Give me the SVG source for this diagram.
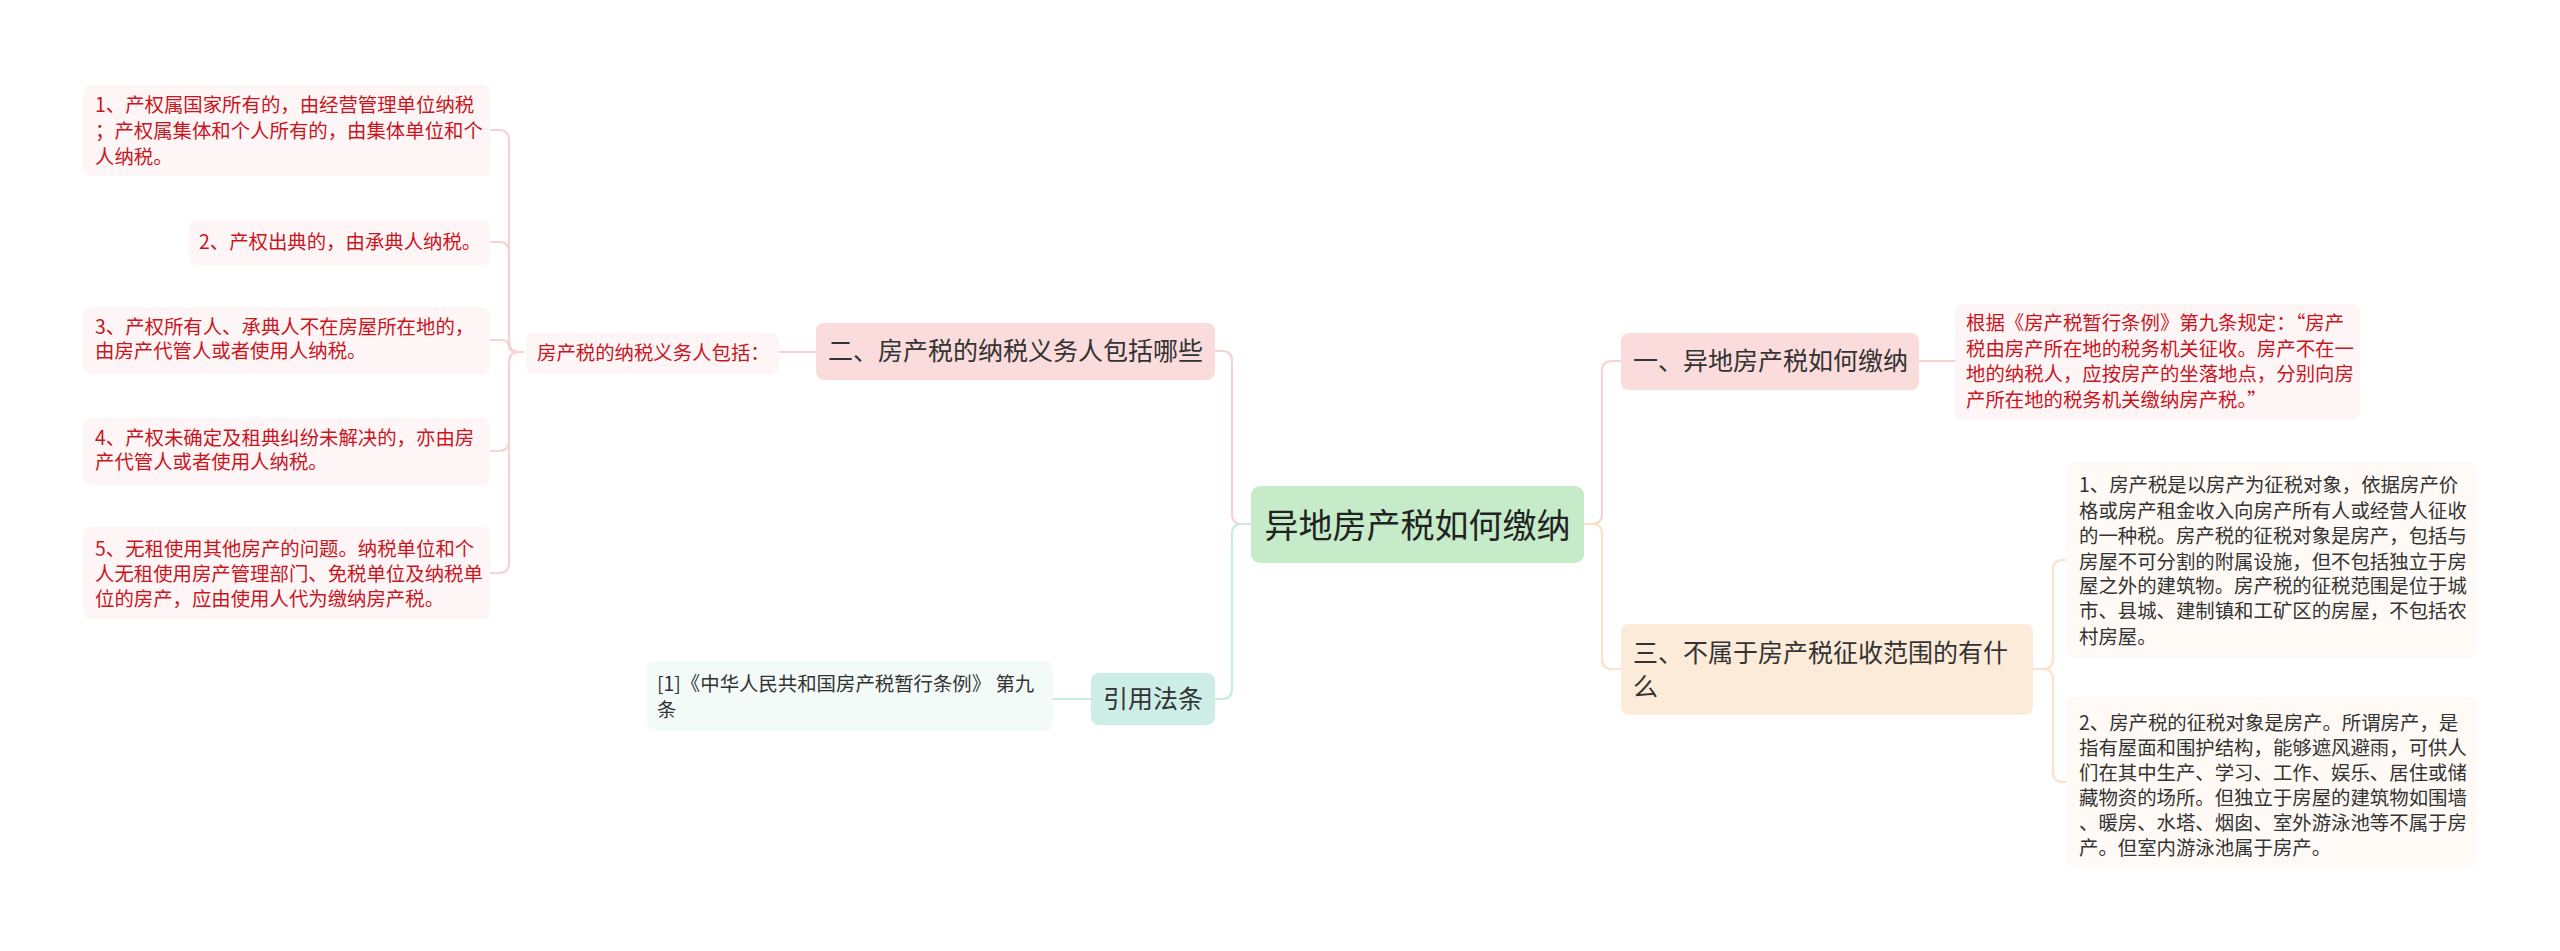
<svg xmlns="http://www.w3.org/2000/svg" width="2560" height="951" viewBox="0 0 2560 951">
<style>
text{font-family:"Noto Sans CJK SC","Liberation Sans",sans-serif;}
.main{font-size:25px;fill:#333333;}
.root{font-size:34px;fill:#222222;}
.leaf{font-size:19.4px;fill:#c9151e;}
.dark{font-size:19.4px;fill:#333333;}
.c{fill:none;stroke-width:2.2;}
.pink{stroke:#f6d2d3;}
.teal{stroke:#c6ece4;}
.peach{stroke:#fce2ca;}
</style>
<rect width="2560" height="951" fill="#ffffff"/>
<g id="connectors">
<path class="c pink" d="M1251,524 H1242 Q1232,524 1232,514 V361 Q1232,351 1222,351 H1215"/>
<path class="c teal" d="M1251,524 H1242 Q1232,524 1232,534 V689 Q1232,699 1222,699 H1215"/>
<path class="c pink" d="M1584,524 H1592 Q1602,524 1602,514 V371 Q1602,361 1612,361 H1621"/>
<path class="c peach" d="M1584,524 H1592 Q1602,524 1602,534 V659 Q1602,669 1612,669 H1621"/>
<path class="c pink" d="M816,352 H779"/>
<path class="c teal" d="M1091,699 H1053"/>
<path class="c pink" d="M1919,361 H1955"/>
<path class="c pink" d="M524,352 H519 Q509,352 509,342 V140 Q509,130 499,130 H490"/>
<path class="c pink" d="M524,352 H519 Q509,352 509,342 V252 Q509,242 499,242 H490"/>
<path class="c pink" d="M524,352 H519 Q509,352 509,346 Q509,340 499,340 H490"/>
<path class="c pink" d="M524,352 H519 Q509,352 509,362 V441 Q509,451 499,451 H490"/>
<path class="c pink" d="M524,352 H519 Q509,352 509,362 V563 Q509,573 499,573 H490"/>
<path class="c peach" d="M2033,669 H2043 Q2053,669 2053,659 V570 Q2053,560 2063,560 H2066"/>
<path class="c peach" d="M2033,669 H2043 Q2053,669 2053,679 V772 Q2053,782 2063,782 H2066"/>
</g>
<g id="root">
<rect x="1251" y="486" width="333" height="77" rx="9" fill="#c5ebc8"/>
<text class="root" x="1417.5" y="538" text-anchor="middle">异地房产税如何缴纳</text>
</g>
<g id="n1">
<rect x="1621" y="333" width="298" height="57" rx="8" fill="#fbdcdc"/>
<text class="main" x="1633" y="370">一、异地房产税如何缴纳</text>
</g>
<g id="n1a">
<rect x="1955" y="304" width="405" height="116" rx="8" fill="#fef6f6"/>
<text class="leaf" x="1966" y="330">根据《房产税暂行条例》第九条规定：“房产</text>
<text class="leaf" x="1966" y="356">税由房产所在地的税务机关征收。房产不在一</text>
<text class="leaf" x="1966" y="381">地的纳税人，应按房产的坐落地点，分别向房</text>
<text class="leaf" x="1966" y="407">产所在地的税务机关缴纳房产税。”</text>
</g>
<g id="n3">
<rect x="1621" y="624" width="412" height="91" rx="8" fill="#fdebd9"/>
<text class="main" x="1633" y="662">三、不属于房产税征收范围的有什</text>
<text class="main" x="1633" y="696">么</text>
</g>
<g id="n3a">
<rect x="2066" y="462" width="411" height="196" rx="8" fill="#fffaf5"/>
<text class="dark" x="2079" y="492">1、房产税是以房产为征税对象，依据房产价</text>
<text class="dark" x="2079" y="518">格或房产租金收入向房产所有人或经营人征收</text>
<text class="dark" x="2079" y="543">的一种税。房产税的征税对象是房产，包括与</text>
<text class="dark" x="2079" y="569">房屋不可分割的附属设施，但不包括独立于房</text>
<text class="dark" x="2079" y="593">屋之外的建筑物。房产税的征税范围是位于城</text>
<text class="dark" x="2079" y="618">市、县城、建制镇和工矿区的房屋，不包括农</text>
<text class="dark" x="2079" y="644">村房屋。</text>
</g>
<g id="n3b">
<rect x="2066" y="697" width="411" height="170" rx="8" fill="#fffaf5"/>
<text class="dark" x="2079" y="730">2、房产税的征税对象是房产。所谓房产，是</text>
<text class="dark" x="2079" y="755">指有屋面和围护结构，能够遮风避雨，可供人</text>
<text class="dark" x="2079" y="780">们在其中生产、学习、工作、娱乐、居住或储</text>
<text class="dark" x="2079" y="805">藏物资的场所。但独立于房屋的建筑物如围墙</text>
<text class="dark" x="2079" y="830">、暖房、水塔、烟囱、室外游泳池等不属于房</text>
<text class="dark" x="2079" y="855">产。但室内游泳池属于房产。</text>
</g>
<g id="n2">
<rect x="816" y="323" width="399" height="57" rx="8" fill="#fbdcdc"/>
<text class="main" x="1015.5" y="360" text-anchor="middle">二、房产税的纳税义务人包括哪些</text>
</g>
<g id="n2a">
<rect x="526" y="333" width="253" height="41" rx="8" fill="#fef6f6"/>
<text class="leaf" x="537" y="360">房产税的纳税义务人包括：</text>
</g>
<g id="l1">
<rect x="83" y="85" width="407" height="91" rx="8" fill="#fef6f6"/>
<text class="leaf" x="95" y="112">1、产权属国家所有的，由经营管理单位纳税</text>
<text class="leaf" x="95" y="138">；产权属集体和个人所有的，由集体单位和个</text>
<text class="leaf" x="95" y="164">人纳税。</text>
</g>
<g id="l2">
<rect x="189" y="220" width="301" height="45" rx="8" fill="#fef6f6"/>
<text class="leaf" x="199" y="249">2、产权出典的，由承典人纳税。</text>
</g>
<g id="l3">
<rect x="83" y="307" width="407" height="67" rx="8" fill="#fef6f6"/>
<text class="leaf" x="95" y="334">3、产权所有人、承典人不在房屋所在地的，</text>
<text class="leaf" x="95" y="358">由房产代管人或者使用人纳税。</text>
</g>
<g id="l4">
<rect x="83" y="418" width="407" height="67" rx="8" fill="#fef6f6"/>
<text class="leaf" x="95" y="445">4、产权未确定及租典纠纷未解决的，亦由房</text>
<text class="leaf" x="95" y="469">产代管人或者使用人纳税。</text>
</g>
<g id="l5">
<rect x="83" y="527" width="407" height="92" rx="8" fill="#fef6f6"/>
<text class="leaf" x="95" y="556">5、无租使用其他房产的问题。纳税单位和个</text>
<text class="leaf" x="95" y="581">人无租使用房产管理部门、免税单位及纳税单</text>
<text class="leaf" x="95" y="606">位的房产，应由使用人代为缴纳房产税。</text>
</g>
<g id="cite">
<rect x="1091" y="673" width="124" height="52" rx="8" fill="#cdeee6"/>
<text class="main" x="1153" y="708" text-anchor="middle">引用法条</text>
</g>
<g id="cite1">
<rect x="647" y="661" width="406" height="70" rx="8" fill="#f3fbf9"/>
<text class="dark" x="657" y="691">[1]《中华人民共和国房产税暂行条例》 第九</text>
<text class="dark" x="657" y="717">条</text>
</g>
</svg>
